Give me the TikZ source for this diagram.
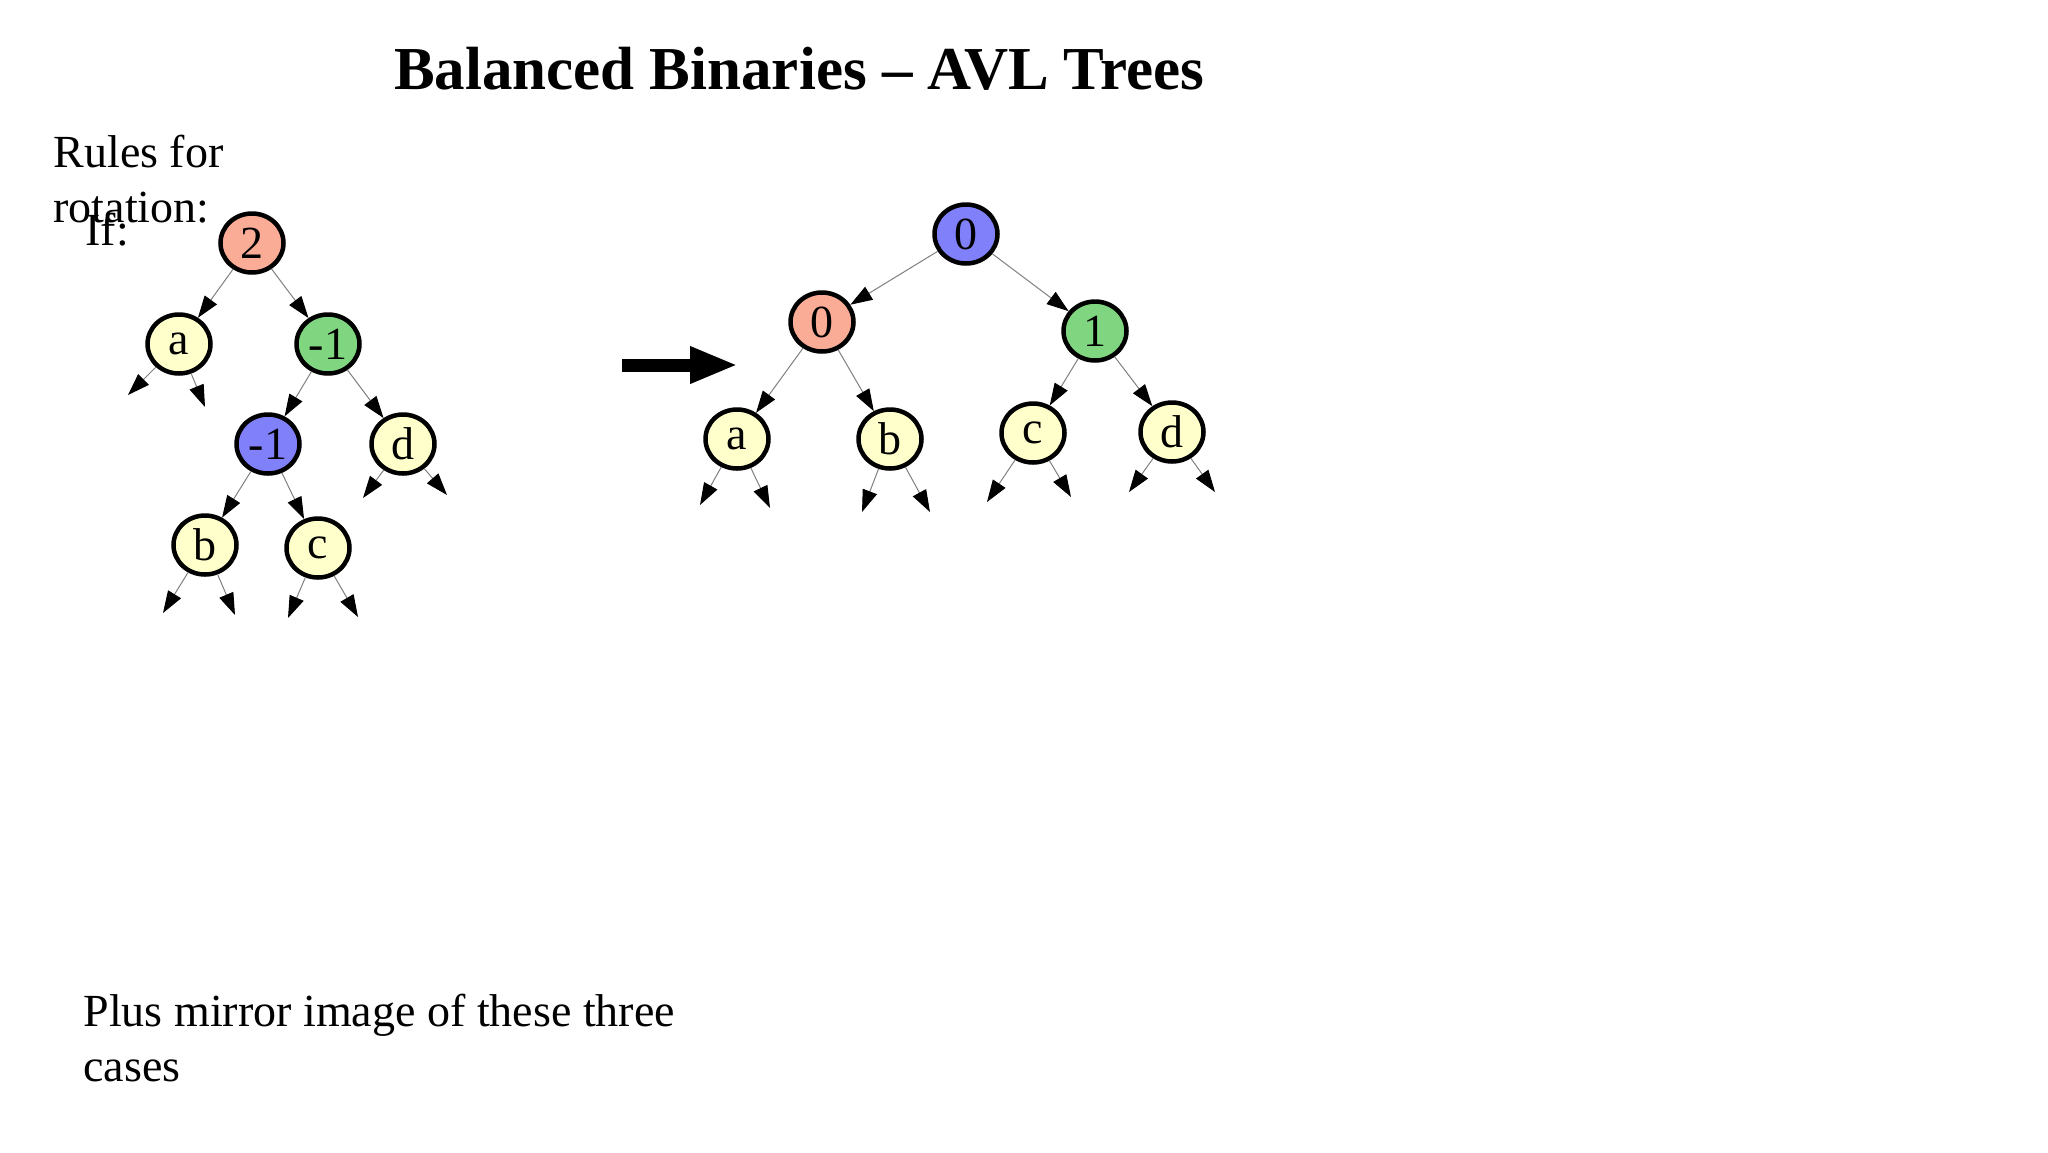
\documentclass[tikz,border=0pt]{standalone}
\usepackage{fontspec}
\setmainfont{Liberation Serif}
\usetikzlibrary{arrows.meta,positioning,calc,shapes.geometric}
\definecolor{salmon}{RGB}{250,172,150}
\definecolor{leafgreen}{RGB}{128,214,128}
\definecolor{lavender}{RGB}{128,128,250}
\definecolor{cream}{RGB}{255,255,204}
\tikzset{
  treenode/.style={draw=black, ellipse, line width=4.5pt, minimum width=63pt, minimum height=59pt, inner sep=0pt, font=\fontsize{46}{46}\selectfont},
  branch/.style={draw=gray, line width=1pt, -{Triangle[length=22pt,width=15pt,color=black]}},
  slidetext/.style={anchor=base west, align=left, font=\fontsize{46}{55}\selectfont}
}

\begin{document}
\begin{tikzpicture}[x=1pt, y=-1pt, on grid]
  \useasboundingbox [fill=white] (0,0) rectangle (2048,1152);

  \node [anchor=base, font=\bfseries\fontsize{61}{61}\selectfont] (title) at (799,89) {Balanced Binaries -- AVL Trees};
  \node [slidetext] (rules) at (50,222) {Rules for\\rotation:};
  \node [slidetext] (iftext) at (82,245) {If:};
  \node [slidetext] (mirror) at (80,1081) {Plus mirror image of these three\\cases};

  % before rotation
  \node [treenode, fill=salmon] (l2) at (252,243) {2};
  \node [treenode, fill=cream, below left=101pt and 73pt of l2] (la) {a};
  \node [treenode, fill=leafgreen, below right=101pt and 76pt of l2] (lg) {-1};
  \node [treenode, fill=lavender, below left=100pt and 60pt of lg] (lv) {-1};
  \node [treenode, fill=cream, below right=100pt and 75pt of lg] (ld) {d};
  \node [treenode, fill=cream, below left=101pt and 63pt of lv] (lb) {b};
  \node [treenode, fill=cream, below right=104pt and 50pt of lv] (lc) {c};

  \draw [branch] (l2) -- (la);
  \draw [branch] (l2) -- (lg);
  \draw [branch] (lg) -- (lv);
  \draw [branch] (lg) -- (ld);
  \draw [branch] (lv) -- (lb);
  \draw [branch] (lv) -- (lc);

  \coordinate (la-l) at ($(la)+(-51,51)$);  \coordinate (la-r) at ($(la)+(26,63)$);
  \coordinate (ld-l) at ($(ld)+(-40,54)$);  \coordinate (ld-r) at ($(ld)+(44,51)$);
  \coordinate (lb-l) at ($(lb)+(-42,68)$);  \coordinate (lb-r) at ($(lb)+(30,70)$);
  \coordinate (lc-l) at ($(lc)+(-30,70)$);  \coordinate (lc-r) at ($(lc)+(40,69)$);
  \draw [branch] (la) -- (la-l);  \draw [branch] (la) -- (la-r);
  \draw [branch] (ld) -- (ld-l);  \draw [branch] (ld) -- (ld-r);
  \draw [branch] (lb) -- (lb-l);  \draw [branch] (lb) -- (lb-r);
  \draw [branch] (lc) -- (lc-l);  \draw [branch] (lc) -- (lc-r);

  % rotation arrow
  \coordinate (turn-s) at (622,365);
  \coordinate (turn-e) at (738,365);
  \draw [line width=13pt, -{Triangle[length=48pt,width=34pt]}] (turn-s) -- (turn-e);

  % after rotation
  \node [treenode, fill=lavender] (r0) at (966,234) {0};
  \node [treenode, fill=salmon, below left=88pt and 144pt of r0] (rs) {0};
  \node [treenode, fill=leafgreen, below right=97pt and 129pt of r0] (rg) {1};
  \node [treenode, fill=cream, below left=117pt and 85pt of rs] (ra) {a};
  \node [treenode, fill=cream, below right=117pt and 68pt of rs] (rb) {b};
  \node [treenode, fill=cream, below left=102pt and 62pt of rg] (rc) {c};
  \node [treenode, fill=cream, below right=101pt and 77pt of rg] (rd) {d};

  \draw [branch] (r0) -- (rs);
  \draw [branch] (r0) -- (rg);
  \draw [branch] (rs) -- (ra);
  \draw [branch] (rs) -- (rb);
  \draw [branch] (rg) -- (rc);
  \draw [branch] (rg) -- (rd);

  \coordinate (ra-l) at ($(ra)+(-37,66)$);  \coordinate (ra-r) at ($(ra)+(33,69)$);
  \coordinate (rb-l) at ($(rb)+(-28,73)$);  \coordinate (rb-r) at ($(rb)+(40,73)$);
  \coordinate (rc-l) at ($(rc)+(-46,69)$);  \coordinate (rc-r) at ($(rc)+(38,64)$);
  \coordinate (rd-l) at ($(rd)+(-43,60)$);  \coordinate (rd-r) at ($(rd)+(43,60)$);
  \draw [branch] (ra) -- (ra-l);  \draw [branch] (ra) -- (ra-r);
  \draw [branch] (rb) -- (rb-l);  \draw [branch] (rb) -- (rb-r);
  \draw [branch] (rc) -- (rc-l);  \draw [branch] (rc) -- (rc-r);
  \draw [branch] (rd) -- (rd-l);  \draw [branch] (rd) -- (rd-r);
\end{tikzpicture}
\end{document}
